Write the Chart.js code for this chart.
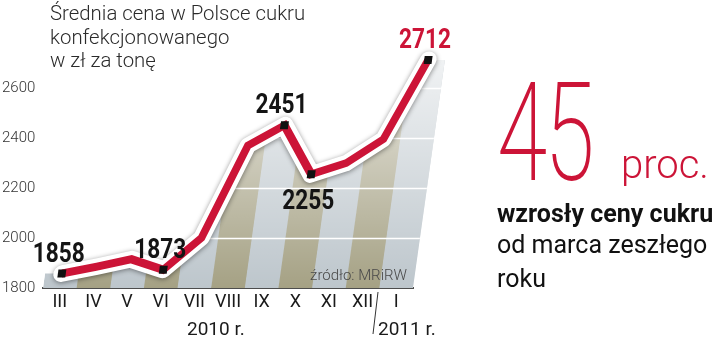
<!DOCTYPE html>
<html><head><meta charset="utf-8">
<script src="https://cdn.jsdelivr.net/npm/chart.js@4"></script>
<style>
html,body{margin:0;padding:0;background:#fff;}
#wrap{position:relative;width:720px;height:340px;overflow:hidden;font-family:Roboto,'Noto Sans',sans-serif;}
#c{position:absolute;left:0;top:0;}
.t{position:absolute;white-space:nowrap;transform-origin:0 0;line-height:1;}
.ti{font-size:21px;font-weight:300;color:#2b2b2b;transform:scaleX(0.97);}
</style></head><body>
<div id="wrap">
<canvas id="c" width="720" height="340"></canvas>
<div class="t ti" style="left:50px;top:3px;">Średnia cena w Polsce cukru</div>
<div class="t ti" style="left:50px;top:27px;">konfekcjonowanego</div>
<div class="t ti" style="left:50px;top:50px;">w zł za tonę</div>
<div class="t" style="right:313px;top:268px;font-size:15px;font-weight:300;color:#4a4a4a;">źródło: MRiRW</div>
<div class="t" style="left:187px;top:319px;font-size:19px;color:#1a1a1a;">2010 r.</div>
<div class="t" style="left:378px;top:319px;font-size:19px;color:#1a1a1a;">2011 r.</div>
<svg style="position:absolute;left:0;top:0" width="720" height="340"><line x1="378" y1="292" x2="373" y2="334" stroke="#333" stroke-width="1"/></svg>
<div class="t" style="left:497px;top:64px;font-size:138px;font-weight:200;color:#cc1437;transform:scaleX(0.66);letter-spacing:-4px;">45</div>
<div class="t" style="left:621px;top:145px;font-size:40px;font-weight:300;color:#cc1437;">proc.</div>
<div class="t" style="left:497px;top:201px;font-size:25px;font-weight:700;color:#111;">wzrosły ceny cukru</div>
<div class="t" style="left:497px;top:232px;font-size:25px;font-weight:400;color:#111;">od marca zeszłego</div>
<div class="t" style="left:497px;top:266px;font-size:25px;font-weight:400;color:#111;">roku</div>
</div>
<script>
const months = ['III','IV','V','VI','VII','VIII','IX','X','XI','XII','I'];
const prices = [1858, 1885, 1915, 1873, 2000, 2370, 2451, 2255, 2300, 2395, 2712];
const labeledPoints = [0, 3, 6, 7, 10];
const labelsBelow = [7];
const yTickValues = [1800, 2000, 2200, 2400, 2600];

const RED = '#cc1437';
const SHEAR = 0.14;
const OLIVE = '#a5a184';
const STEEL = '#bdc6cc';

const areaPlugin = {
  id: 'area',
  beforeDatasetsDraw(chart) {
    const ctx = chart.ctx, a = chart.chartArea, xs = chart.scales.x, ys = chart.scales.y;
    const pts = chart.getDatasetMeta(1).data;
    const step = (a.right - a.left) / months.length;
    ctx.save();
    ctx.transform(1, 0, -SHEAR, 1, SHEAR * a.bottom, 0);
    ctx.save();
    ctx.beginPath();
    ctx.moveTo(a.left, a.bottom);
    ctx.lineTo(a.left, pts[0].y);
    pts.forEach(p => ctx.lineTo(p.x, p.y));
    ctx.lineTo(a.right, pts[pts.length - 1].y);
    ctx.lineTo(a.right, a.bottom);
    ctx.closePath();
    ctx.clip();
    months.forEach((m, i) => {
      const c = xs.getPixelForValue(i);
      ctx.fillStyle = i % 2 ? OLIVE : STEEL;
      ctx.fillRect(c - step / 2, a.top - 40, step + 0.6, a.bottom - a.top + 40);
    });
    const g = ctx.createLinearGradient(0, a.bottom, 0, a.top + 15);
    g.addColorStop(0, 'rgba(255,255,255,0)');
    g.addColorStop(1, 'rgba(255,255,255,0.8)');
    ctx.fillStyle = g;
    ctx.fillRect(a.left - 5, a.top - 40, a.right - a.left + 10, a.bottom - a.top + 40);
    ctx.strokeStyle = '#ffffff';
    ctx.lineWidth = 1.5;
    yTickValues.slice(1).forEach(v => {
      const y = Math.round(ys.getPixelForValue(v)) + 0.5;
      ctx.beginPath(); ctx.moveTo(a.left, y); ctx.lineTo(a.right, y); ctx.stroke();
    });
    ctx.restore();
  },
  beforeDatasetDraw(chart, args) {
    if (args.index === 0) {
      const ctx = chart.ctx;
      ctx.save();
      ctx.shadowColor = 'rgba(0,0,0,0.45)';
      ctx.shadowBlur = 5;
      ctx.shadowOffsetX = 0;
      ctx.shadowOffsetY = 1;
    }
  },
  afterDatasetDraw(chart, args) {
    if (args.index === 0) chart.ctx.restore();
  },
  afterDatasetsDraw(chart) {
    const ctx = chart.ctx, a = chart.chartArea;
    ctx.restore();
    const pts = chart.getDatasetMeta(1).data;
    labeledPoints.forEach(i => {
      const p = pts[i];
      const sx = p.x + SHEAR * (a.bottom - p.y) - 3;
      const sy = labelsBelow.includes(i) ? p.y + 35 : p.y - 12;
      ctx.save();
      ctx.translate(sx, sy);
      ctx.scale(0.81, 1);
      ctx.font = 'bold 28px Roboto';
      ctx.textAlign = 'center';
      ctx.textBaseline = 'alphabetic';
      ctx.fillStyle = i === prices.length - 1 ? RED : '#141414';
      ctx.fillText(String(prices[i]), 0, 0);
      ctx.restore();
    });
  }
};

new Chart(document.getElementById('c'), {
  type: 'line',
  data: {
    labels: months,
    datasets: [
      {
        data: prices, borderColor: '#ffffff', borderWidth: 17,
        borderCapStyle: 'round', borderJoinStyle: 'round',
        pointRadius: 0, fill: false, order: 2, clip: false, tension: 0
      },
      {
        data: prices, borderColor: RED, borderWidth: 8,
        borderCapStyle: 'butt', borderJoinStyle: 'miter',
        pointStyle: 'rect',
        pointRadius: c => labeledPoints.includes(c.dataIndex) ? 5.6 : 0,
        pointBackgroundColor: '#111', pointBorderWidth: 0,
        fill: false, order: 1, clip: false, tension: 0
      }
    ]
  },
  options: {
    responsive: false,
    animation: false,
    events: [],
    layout: { padding: { left: 2, right: 307, top: 38, bottom: 0 } },
    plugins: { legend: { display: false }, tooltip: { enabled: false }, title: { display: false } },
    scales: {
      x: {
        type: 'category', offset: true, bounds: 'ticks',
        grid: { display: false, drawTicks: false },
        border: { display: true, color: '#4d4d4d', width: 2 },
        ticks: { font: { family: 'Roboto', size: 18 }, color: '#1a1a1a', padding: 4, maxRotation: 0, autoSkip: false },
        afterFit: s => { s.height = 52; }
      },
      y: {
        min: 1800, max: 2800,
        grid: { display: false, drawTicks: false },
        border: { display: false },
        afterBuildTicks: s => { s.ticks = yTickValues.map(v => ({ value: v })); },
        ticks: {
          font: { family: 'Roboto', size: 15, weight: '300' }, color: '#333', crossAlign: 'far', padding: 4,
          callback: v => String(v)
        },
        afterFit: s => { s.width = 41; }
      }
    }
  },
  plugins: [areaPlugin]
});
</script>
</body></html>
